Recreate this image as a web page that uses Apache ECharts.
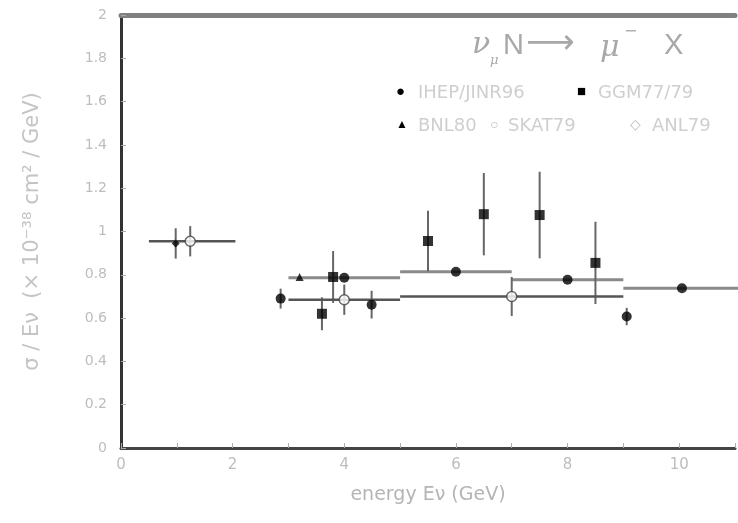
<!DOCTYPE html>
<html>
<head>
<meta charset="utf-8">
<script src="https://cdn.jsdelivr.net/npm/echarts@6/dist/echarts.min.js"></script>
<style>
  html, body { margin: 0; padding: 0; background: #fff; }
  #chart { width: 738px; height: 523px; }
</style>
</head>
<body>
<div id="chart"></div>
<script>
// IHEP/JINR96 - filled circles (some with energy bins)
var ihepX = [2.86, 4.0, 4.49, 6.0, 8.0, 9.06, 10.05];
var ihepY = [0.69, 0.786, 0.662, 0.814, 0.777, 0.607, 0.738];
var ihepErr = [0.046, 0, 0.064, 0, 0, 0.04, 0];
var ihepLo = [null, 3.0, null, 5.0, 7.0, null, 9.0];
var ihepHi = [null, 5.0, null, 7.0, 9.0, null, 11.2];

// GGM77/79 - filled squares
var ggmX = [3.6, 3.8, 5.5, 6.5, 7.5, 8.5];
var ggmY = [0.62, 0.79, 0.956, 1.08, 1.076, 0.855];
var ggmErr = [0.076, 0.12, 0.14, 0.19, 0.2, 0.19];

// BNL80 - triangle
var bnlX = [3.2];
var bnlY = [0.79];

// SKAT79 - open circles with bins
var skatX = [1.24, 4.0, 7.0];
var skatY = [0.955, 0.685, 0.70];
var skatErr = [0.07, 0.07, 0.09];
var skatLo = [0.5, 3.0, 5.0];
var skatHi = [2.05, 5.0, 9.0];

// ANL79
var anlX = [0.98];
var anlY = [0.945];
var anlErr = [0.07];

var xTicks = [0, 2, 4, 6, 8, 10];

var chart = echarts.init(document.getElementById('chart'));

function pts(xs, ys) {
  return xs.map(function (x, i) { return [x, ys[i]]; });
}

// error bars drawn through the axes
function bars(xs, ys, errs, lo, hi, hColor, hWidth) {
  return {
    type: 'custom',
    z: 1,
    silent: true,
    data: pts(xs, ys),
    renderItem: function (params, api) {
      var i = params.dataIndex;
      var kids = [];
      if (lo && lo[i] != null) {
        var a = api.coord([lo[i], ys[i]]);
        var b = api.coord([hi[i], ys[i]]);
        kids.push({ type: 'line', shape: { x1: a[0], y1: a[1], x2: b[0], y2: b[1] },
          style: { stroke: hColor, lineWidth: hWidth } });
      }
      if (errs && errs[i] > 0) {
        var c = api.coord([xs[i], ys[i] - errs[i]]);
        var d = api.coord([xs[i], ys[i] + errs[i]]);
        kids.push({ type: 'line', shape: { x1: c[0], y1: c[1], x2: d[0], y2: d[1] },
          style: { stroke: '#666', lineWidth: 2 } });
      }
      return { type: 'group', children: kids };
    }
  };
}

var faint = '#bdbdbd';
var eq = '#a8a8a8';
var leg = '#cfcfcf';

var option = {
  animation: false,
  backgroundColor: '#fff',
  grid: { left: 121, right: -2, top: 15, bottom: 75 },
  xAxis: [{
    type: 'value', min: 0, max: 11, interval: 1,
    name: 'energy Eν (GeV)', nameLocation: 'middle', nameGap: 38,
    nameTextStyle: { color: '#b5b5b5', fontSize: 19, fontFamily: 'DejaVu Sans' },
    axisLine: { show: true, onZero: false, lineStyle: { color: '#444', width: 3 } },
    axisTick: { show: true, inside: true, length: 5, lineStyle: { color: '#aaa' } },
    axisLabel: {
      color: faint, fontSize: 15, margin: 10, fontFamily: 'DejaVu Sans',
      formatter: function (v) { return xTicks.indexOf(v) >= 0 ? String(v) : ''; }
    },
    splitLine: { show: false }
  }, {
    type: 'value', position: 'top', min: 0, max: 11,
    axisLine: { show: true, onZero: false, lineStyle: { color: '#808080', width: 5 } },
    axisTick: { show: false }, axisLabel: { show: false }, splitLine: { show: false }
  }],
  yAxis: {
    type: 'value', min: 0, max: 2, interval: 0.2,
    name: 'σ / Eν  (× 10⁻³⁸ cm² / GeV)', nameLocation: 'middle', nameGap: 78,
    nameTextStyle: { color: '#c4c4c4', fontSize: 21, fontFamily: 'DejaVu Sans' },
    axisLine: { show: true, onZero: false, lineStyle: { color: '#333', width: 3 } },
    axisTick: { show: true, inside: true, length: 5, lineStyle: { color: '#aaa' } },
    axisLabel: { color: faint, fontSize: 14, margin: 14, fontFamily: 'DejaVu Sans' },
    splitLine: { show: false }
  },
  graphic: [
    { type: 'text', left: 472, top: 30, style: { text: 'ν', fontSize: 30, fill: eq, fontFamily: 'DejaVu Serif', fontStyle: 'italic' } },
    { type: 'text', left: 490, top: 54, style: { text: 'μ', fontSize: 13, fill: eq, fontFamily: 'DejaVu Serif', fontStyle: 'italic' } },
    { type: 'text', left: 503, top: 31, style: { text: 'N', fontSize: 29, fill: eq, fontFamily: 'Liberation Sans' } },
    { type: 'text', left: 526, top: 27, style: { text: '⟶', fontSize: 34, fill: eq, fontFamily: 'DejaVu Sans' } },
    { type: 'text', left: 600, top: 33, style: { text: 'μ', fontSize: 30, fill: eq, fontFamily: 'DejaVu Serif', fontStyle: 'italic' } },
    { type: 'text', left: 624, top: 24, style: { text: '−', fontSize: 16, fill: eq, fontFamily: 'DejaVu Sans' } },
    { type: 'text', left: 664, top: 31, style: { text: 'X', fontSize: 29, fill: eq, fontFamily: 'Liberation Sans' } },

    { type: 'text', left: 396, top: 84, style: { text: '●', fontSize: 15, fill: '#000' } },
    { type: 'text', left: 418, top: 84, style: { text: 'IHEP/JINR96', fontSize: 18, fill: leg, fontFamily: 'DejaVu Sans' } },
    { type: 'text', left: 577, top: 84, style: { text: '■', fontSize: 15, fill: '#000' } },
    { type: 'text', left: 598, top: 84, style: { text: 'GGM77/79', fontSize: 18, fill: leg, fontFamily: 'DejaVu Sans' } },
    { type: 'text', left: 396, top: 119, style: { text: '▲', fontSize: 12, fill: '#000' } },
    { type: 'text', left: 418, top: 117, style: { text: 'BNL80', fontSize: 18, fill: leg, fontFamily: 'DejaVu Sans' } },
    { type: 'text', left: 490, top: 118, style: { text: '○', fontSize: 14, fill: '#bbb' } },
    { type: 'text', left: 508, top: 117, style: { text: 'SKAT79', fontSize: 18, fill: leg, fontFamily: 'DejaVu Sans' } },
    { type: 'text', left: 630, top: 118, style: { text: '◇', fontSize: 14, fill: '#bbb' } },
    { type: 'text', left: 652, top: 117, style: { text: 'ANL79', fontSize: 18, fill: leg, fontFamily: 'DejaVu Sans' } }
  ],
  series: [
    bars(ihepX, ihepY, ihepErr, ihepLo, ihepHi, '#8a8a8a', 3),
    bars(ggmX, ggmY, ggmErr, null, null, '#666', 2),
    bars(skatX, skatY, skatErr, skatLo, skatHi, '#555', 2.5),
    bars(anlX, anlY, anlErr, null, null, '#666', 2),
    { type: 'scatter', name: 'IHEP/JINR96', z: 3, symbol: 'circle', symbolSize: 10,
      itemStyle: { color: '#000' }, data: pts(ihepX, ihepY) },
    { type: 'scatter', name: 'GGM77/79', z: 3, symbol: 'rect', symbolSize: 10,
      itemStyle: { color: '#000' }, data: pts(ggmX, ggmY) },
    { type: 'scatter', name: 'BNL80', z: 3, symbol: 'triangle', symbolSize: 8,
      itemStyle: { color: '#000' }, data: pts(bnlX, bnlY) },
    { type: 'scatter', name: 'SKAT79', z: 3, symbol: 'circle', symbolSize: 10,
      itemStyle: { color: '#fff', borderColor: '#444', borderWidth: 1.5 }, data: pts(skatX, skatY) },
    { type: 'scatter', name: 'ANL79', z: 3, symbol: 'diamond', symbolSize: 8,
      itemStyle: { color: '#000' }, data: pts(anlX, anlY) }
  ]
};

chart.setOption(option);
</script>
</body>
</html>
